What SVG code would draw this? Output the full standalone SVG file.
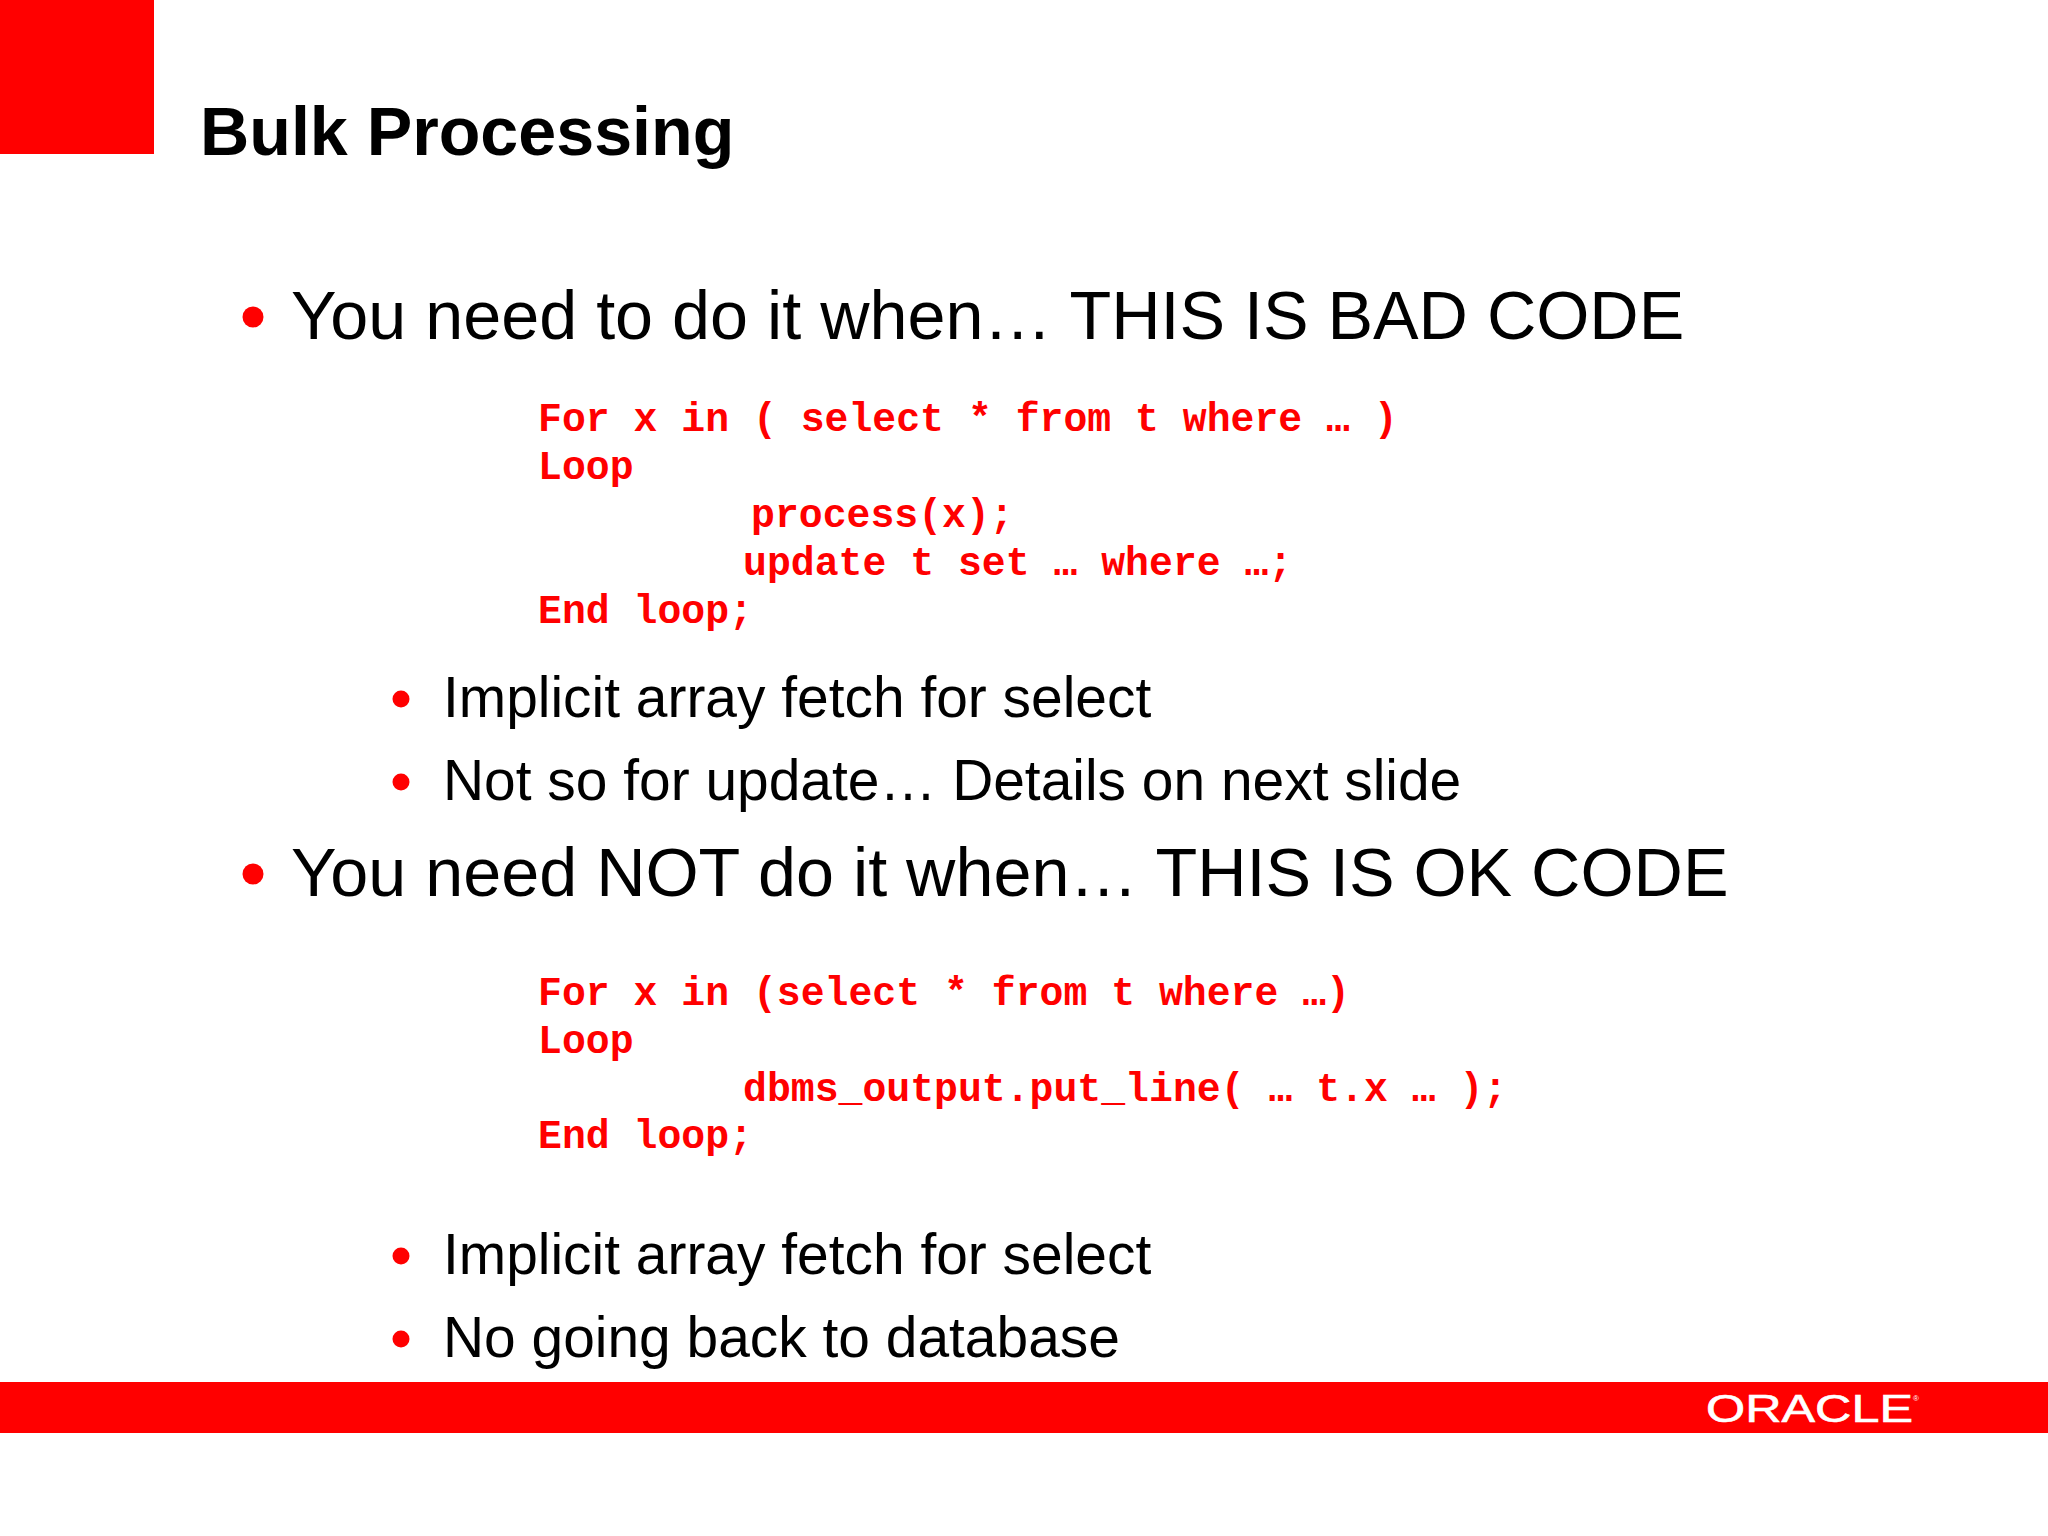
<svg xmlns="http://www.w3.org/2000/svg" width="2048" height="1536" viewBox="0 0 2048 1536">
<style>
.s{font-family:"Liberation Sans",Arial,sans-serif;fill:#000}
.t{font-size:68.200px;font-weight:bold}
.h{font-size:68.300px}
.b{font-size:56.900px}
.c{font-family:"Liberation Mono","Courier New",monospace;font-weight:bold;font-size:39.800px;fill:#f00;white-space:pre}
.d1{fill:#f00}
</style>
<rect width="2048" height="1536" fill="#fff"/>
<rect width="154" height="154" fill="#f00"/>
<text class="s t" x="200" y="155">Bulk Processing</text>
<circle class="d1" cx="253" cy="317" r="10.500"/>
<text class="s h" x="291" y="339">You need to do it when… THIS IS BAD CODE</text>
<g class="c">
<text x="538" y="431">For x in ( select * from t where … )</text>
<text x="538" y="479">Loop</text>
<text x="751" y="527">process(x);</text>
<text x="743" y="575">update t set … where …;</text>
<text x="538" y="623">End loop;</text>
</g>
<circle class="d1" cx="401" cy="699" r="8.500"/>
<text class="s b" x="443" y="717">Implicit array fetch for select</text>
<circle class="d1" cx="401" cy="782" r="8.500"/>
<text class="s b" x="443" y="800">Not so for update… Details on next slide</text>
<circle class="d1" cx="253" cy="874" r="10.500"/>
<text class="s h" x="291" y="896">You need NOT do it when… THIS IS OK CODE</text>
<g class="c">
<text x="538" y="1005">For x in (select * from t where …)</text>
<text x="538" y="1053">Loop</text>
<text x="743" y="1101">dbms_output.put_line( … t.x … );</text>
<text x="538" y="1148">End loop;</text>
</g>
<circle class="d1" cx="401" cy="1256" r="8.500"/>
<text class="s b" x="443" y="1274">Implicit array fetch for select</text>
<circle class="d1" cx="401" cy="1339" r="8.500"/>
<text class="s b" x="443" y="1357">No going back to database</text>
<rect x="0" y="1382" width="2048" height="51" fill="#f00"/>
<text x="1706" y="1422" font-family="Liberation Sans,Arial,sans-serif" font-size="38" fill="#fff" stroke="#fff" stroke-width="0.600" textLength="207" lengthAdjust="spacingAndGlyphs">ORACLE</text>
<text x="1913" y="1401" font-family="Liberation Sans,Arial,sans-serif" font-size="8" fill="#fff">®</text>
</svg>
